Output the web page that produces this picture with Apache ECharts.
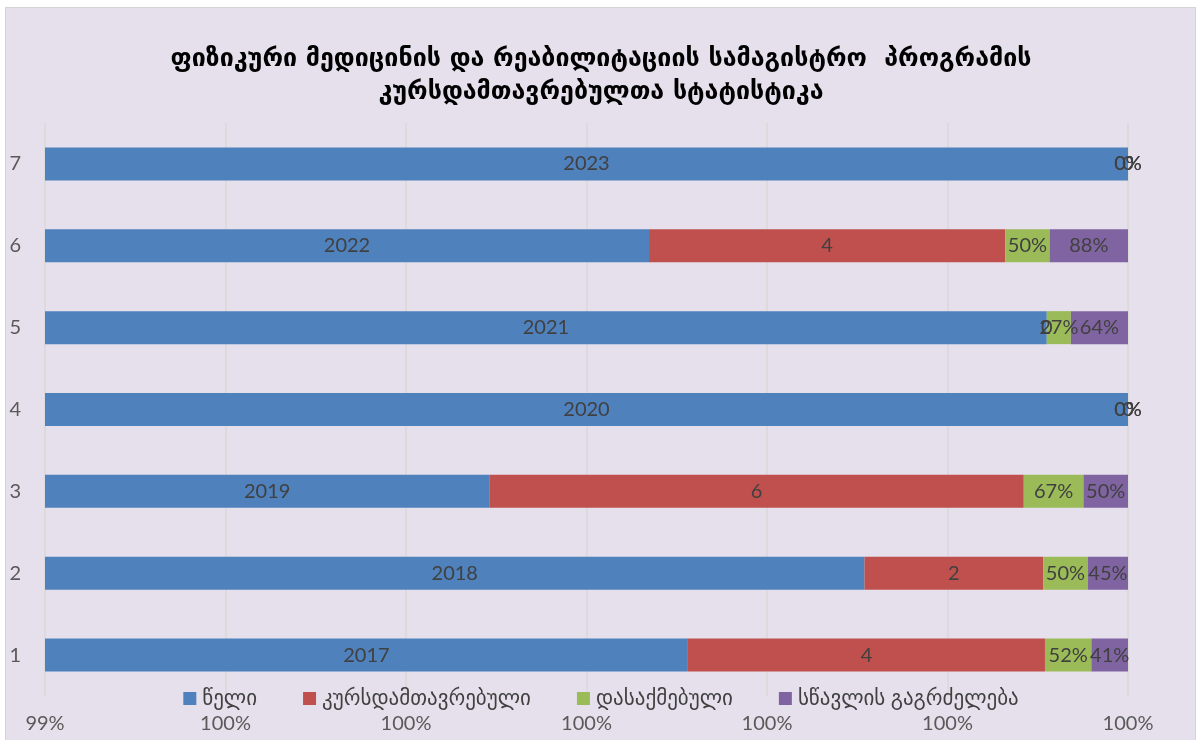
<!DOCTYPE html>
<html><head><meta charset="utf-8">
<script src="https://cdn.jsdelivr.net/npm/echarts@6/dist/echarts.min.js"></script>
<style>
html,body{margin:0;padding:0;background:#fff;}
#frame{position:absolute;left:5px;top:7px;width:1191px;height:740px;background:#E5E0EC;border:1px solid #D4D4D4;box-sizing:border-box;}
#c{position:absolute;left:0;top:0;width:1202px;height:740px;}
</style></head>
<body>
<div id="frame"></div>
<div id="c"></div>
<script>
const categories = ['1','2','3','4','5','6','7'];
const seriesNames = ['წელი','კურსდამთავრებული','დასაქმებული','სწავლის გაგრძელება'];
const years = [2017, 2018, 2019, 2020, 2021, 2022, 2023];
const graduates = [4, 2, 6, 0, 0, 4, 0];
const employed = [0.52, 0.50, 0.67, 0, 0.27, 0.50, 0];
const continuing = [0.41, 0.45, 0.50, 0, 0.64, 0.88, 0];
const xTicks = [0.994, 0.995, 0.996, 0.997, 0.998, 0.999, 1.0];
const titleLines = ['ფიზიკური მედიცინის და რეაბილიტაციის სამაგისტრო  პროგრამის', 'კურსდამთავრებულთა სტატისტიკა'];
const colors = ['#4F81BD', '#C0504D', '#9BBB59', '#8064A2'];

const raw = [years, graduates, employed, continuing];
const totals = categories.map((c, i) => raw.reduce((s, a) => s + a[i], 0));
const fmt = [
  v => String(v),
  v => String(v),
  v => Math.round(v * 100) + '%',
  v => Math.round(v * 100) + '%'
];

const font = "Lato, 'DejaVu Sans', sans-serif";
const series = seriesNames.map((name, k) => ({
  name: name,
  type: 'bar',
  stack: 'total',
  barWidth: 33,
  clip: true,
  itemStyle: { color: colors[k] },
  label: {
    show: true,
    position: 'inside',
    color: '#404040',
    fontSize: 20,
    fontFamily: font,
    formatter: p => fmt[k](raw[k][p.dataIndex])
  },
  labelLayout: { hideOverlap: false },
  data: categories.map((c, i) => raw[k][i] / totals[i])
}));

const chart = echarts.init(document.getElementById('c'), null, { renderer: 'canvas' });
chart.setOption({
  backgroundColor: 'transparent',
  animation: false,
  title: {
    text: titleLines.join('\n'),
    left: 'center',
    top: 38,
    textStyle: { fontSize: 25, fontWeight: 'bold', color: '#000', lineHeight: 33, fontFamily: "'DejaVu Sans', sans-serif" }
  },
  legend: {
    data: seriesNames,
    bottom: 26,
    left: 'center',
    itemWidth: 13,
    itemHeight: 13,
    itemGap: 46,
    icon: 'rect',
    textStyle: { fontSize: 21, color: '#404040', fontFamily: font, padding: [0, 0, 0, 1] }
  },
  grid: { left: 45, right: 74, top: 123, bottom: 44, containLabel: false },
  xAxis: {
    type: 'value',
    min: xTicks[0],
    max: xTicks[xTicks.length - 1],
    interval: 0.001,
    axisLine: { show: false },
    axisTick: { show: false },
    splitLine: { show: true, lineStyle: { color: '#D9D9D9', width: 1.5 } },
    axisLabel: {
      margin: 18,
      color: '#595959',
      fontSize: 20,
      fontFamily: font,
      formatter: v => Math.round(v * 100) + '%'
    }
  },
  yAxis: {
    type: 'category',
    data: categories,
    axisLine: { show: false },
    axisTick: { show: false },
    axisLabel: { margin: 24, color: '#595959', fontSize: 20, fontFamily: font }
  },
  series: series
});
</script>
</body></html>
